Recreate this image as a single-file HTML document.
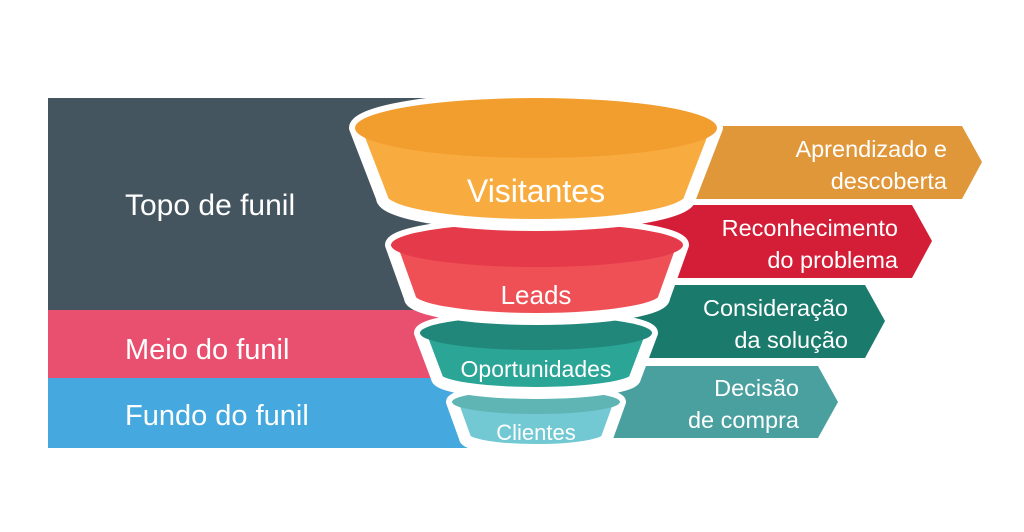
<!DOCTYPE html>
<html><head><meta charset="utf-8"><style>
html,body{margin:0;padding:0;background:#fff;}
svg{display:block;}
text{font-family:"Liberation Sans",sans-serif;fill:#fff;}
</style></head><body>
<svg width="1024" height="532" viewBox="0 0 1024 532" xmlns="http://www.w3.org/2000/svg">
<rect width="1024" height="532" fill="#fff"/>
<rect x="48" y="98" width="450" height="212" fill="#44555f"/>
<rect x="48" y="310" width="450" height="68" fill="#e9506f"/>
<rect x="48" y="378" width="450" height="70" fill="#45a8de"/>
<text x="125" y="215" font-size="30">Topo de funil</text>
<text x="125" y="359" font-size="29">Meio do funil</text>
<text x="125" y="425" font-size="29">Fundo do funil</text>
<polygon points="640,126 962,126 982,162 962,199 640,199" fill="#e0973a"/>
<polygon points="620,205 912,205 932,241 912,278 620,278" fill="#d41e38"/>
<polygon points="600,285 865,285 885,321 865,358 600,358" fill="#1a7a6c"/>
<polygon points="580,366 818,366 838,402 818,438 580,438" fill="#4aa09e"/>
<g font-size="23.5" text-anchor="end">
<text x="947" y="157">Aprendizado e</text>
<text x="947" y="189">descoberta</text>
<text x="898" y="236">Reconhecimento</text>
<text x="898" y="268">do problema</text>
<text x="848" y="316">Consideração</text>
<text x="848" y="348">da solução</text>
<text x="799" y="396">Decisão</text>
<text x="799" y="428">de compra</text>
</g>
<g stroke="#fff" stroke-width="12" stroke-linejoin="round">
<path d="M452,402 L465,438 A71,12 0 0 0 607,438 L620,402 A84,12 0 0 0 452,402 Z" fill="#72c9d4"/>
</g>
<ellipse cx="536" cy="402" rx="84" ry="12" fill="#5fb4b4"/>
<text x="536" y="440" font-size="22" text-anchor="middle">Clientes</text>
<g stroke="#fff" stroke-width="12" stroke-linejoin="round">
<path d="M420,333 L437,378 A99,15 0 0 0 635,378 L652,333 A116,17 0 0 0 420,333 Z" fill="#2aa596"/>
</g>
<ellipse cx="536" cy="333" rx="116" ry="17" fill="#20877a"/>
<text x="536" y="377" font-size="23" text-anchor="middle">Oportunidades</text>
<g stroke="#fff" stroke-width="12" stroke-linejoin="round">
<path d="M391,245 L410,298 A127,21 0 0 0 664,298 L683,245 A146,22 0 0 0 391,245 Z" fill="#ee5055"/>
</g>
<ellipse cx="537" cy="245" rx="146" ry="22" fill="#e53a4a"/>
<text x="536" y="304" font-size="26" text-anchor="middle">Leads</text>
<g stroke="#fff" stroke-width="12" stroke-linejoin="round">
<path d="M355,128 L382,198 A154,27 0 0 0 690,198 L717,128 A181,30 0 0 0 355,128 Z" fill="#f8ac3f"/>
</g>
<ellipse cx="536" cy="128" rx="181" ry="30" fill="#f19e2f"/>
<text x="536" y="202" font-size="32" text-anchor="middle">Visitantes</text>
</svg>
</body></html>
